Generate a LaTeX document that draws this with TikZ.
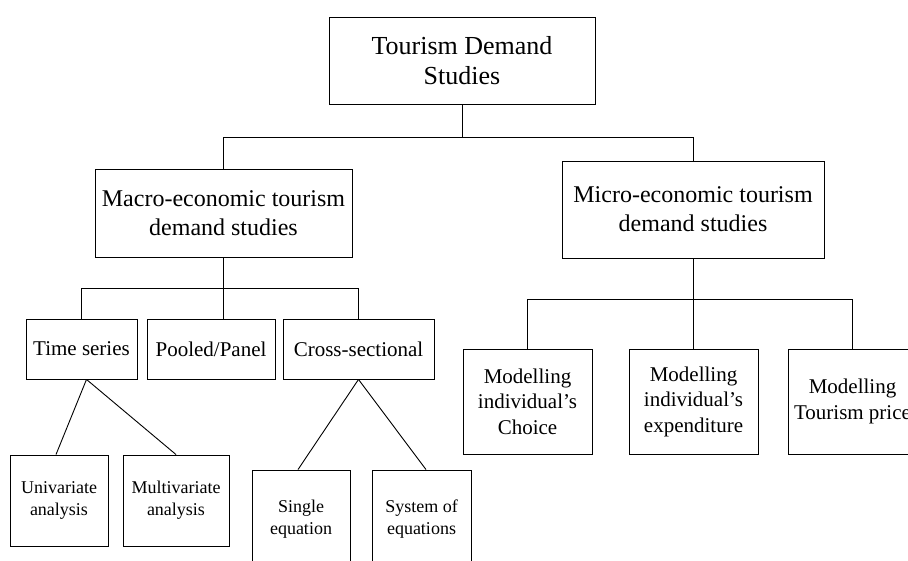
\documentclass[tikz,border=0pt]{standalone}
\usepackage{fontspec}
\setmainfont{Liberation Serif}

\begin{document}
\begin{tikzpicture}[x=1pt,y=-1pt,line width=0.9pt,
		box/.style={draw,align=center,inner sep=0pt},
		big/.style={font=\fontsize{26}{30}\selectfont},
		mid/.style={font=\fontsize{24}{29}\selectfont},
		sml/.style={font=\fontsize{21}{25.5}\selectfont},
		tiny/.style={font=\fontsize{18}{22}\selectfont}]
				\useasboundingbox (0,0) rectangle (908,561);

				\node[box,big,minimum width=266pt,minimum height=87pt] (top) at (462,60.5){Tourism Demand\\Studies};

				\node[box,mid,minimum width=257pt,minimum height=88pt] (macro) at (223.5,213.5){Macro-economic tourism\\demand studies};
				\node[box,mid,minimum width=262pt,minimum height=97pt] (micro) at (693,209.5){Micro-economic tourism\\demand studies};

				\node[box,sml,minimum width=111pt,minimum height=60pt] (time) at (81.5,349){Time series};
				\node[box,sml,minimum width=128pt,minimum height=60pt] (pooled) at (211,349){Pooled/Panel};
				\node[box,sml,minimum width=151pt,minimum height=60pt] (cross) at (358.5,349){Cross-sectional};

				\node[box,tiny,minimum width=98pt,minimum height=91pt] (uni) at (59,500.5){Univariate\\analysis};
				\node[box,tiny,minimum width=106pt,minimum height=91pt] (multi) at (176,500.5){Multivariate\\analysis};
				\node[box,tiny,minimum width=98pt,minimum height=98pt] (single) at (301,519){Single\\equation};
				\node[box,tiny,minimum width=99pt,minimum height=98pt] (system) at (421.5,519){System of\\equations};

				\node[box,sml,minimum width=129pt,minimum height=105pt] (choice) at (527.5,401.5){Modelling\\individual's\\Choice};
				\node[box,sml,minimum width=129pt,minimum height=105pt] (expend) at (693.5,401.5){Modelling\\individual's\\expenditure};
				\node[box,sml,minimum width=129pt,minimum height=105pt] (price) at (852.5,401.5){Modelling\\Tourism price};

				\draw (top.south) -- ++(0,33) coordinate (j1);
				\draw (macro.north) |- (j1) -| (micro.north);

				\draw (macro.south) -- ++(0,31) coordinate (j2);
				\draw (time.north) |- (j2) -| (cross.north);
				\draw (j2) -- (j2 |- pooled.north);

				\draw (micro.south) -- ++(0,41) coordinate (j3);
				\draw (choice.north) |- (j3) -| (price.north);
				\draw (j3) -- (j3 |- expend.north);

				\draw ([xshift=5pt]time.south) coordinate (t0) -- ([xshift=-3pt]uni.north);
				\draw (t0) -- (multi.north);
				\draw (cross.south) -- ([xshift=-3pt]single.north);
				\draw (cross.south) -- ([xshift=4.5pt]system.north);
			\end{tikzpicture}
\end{document}
